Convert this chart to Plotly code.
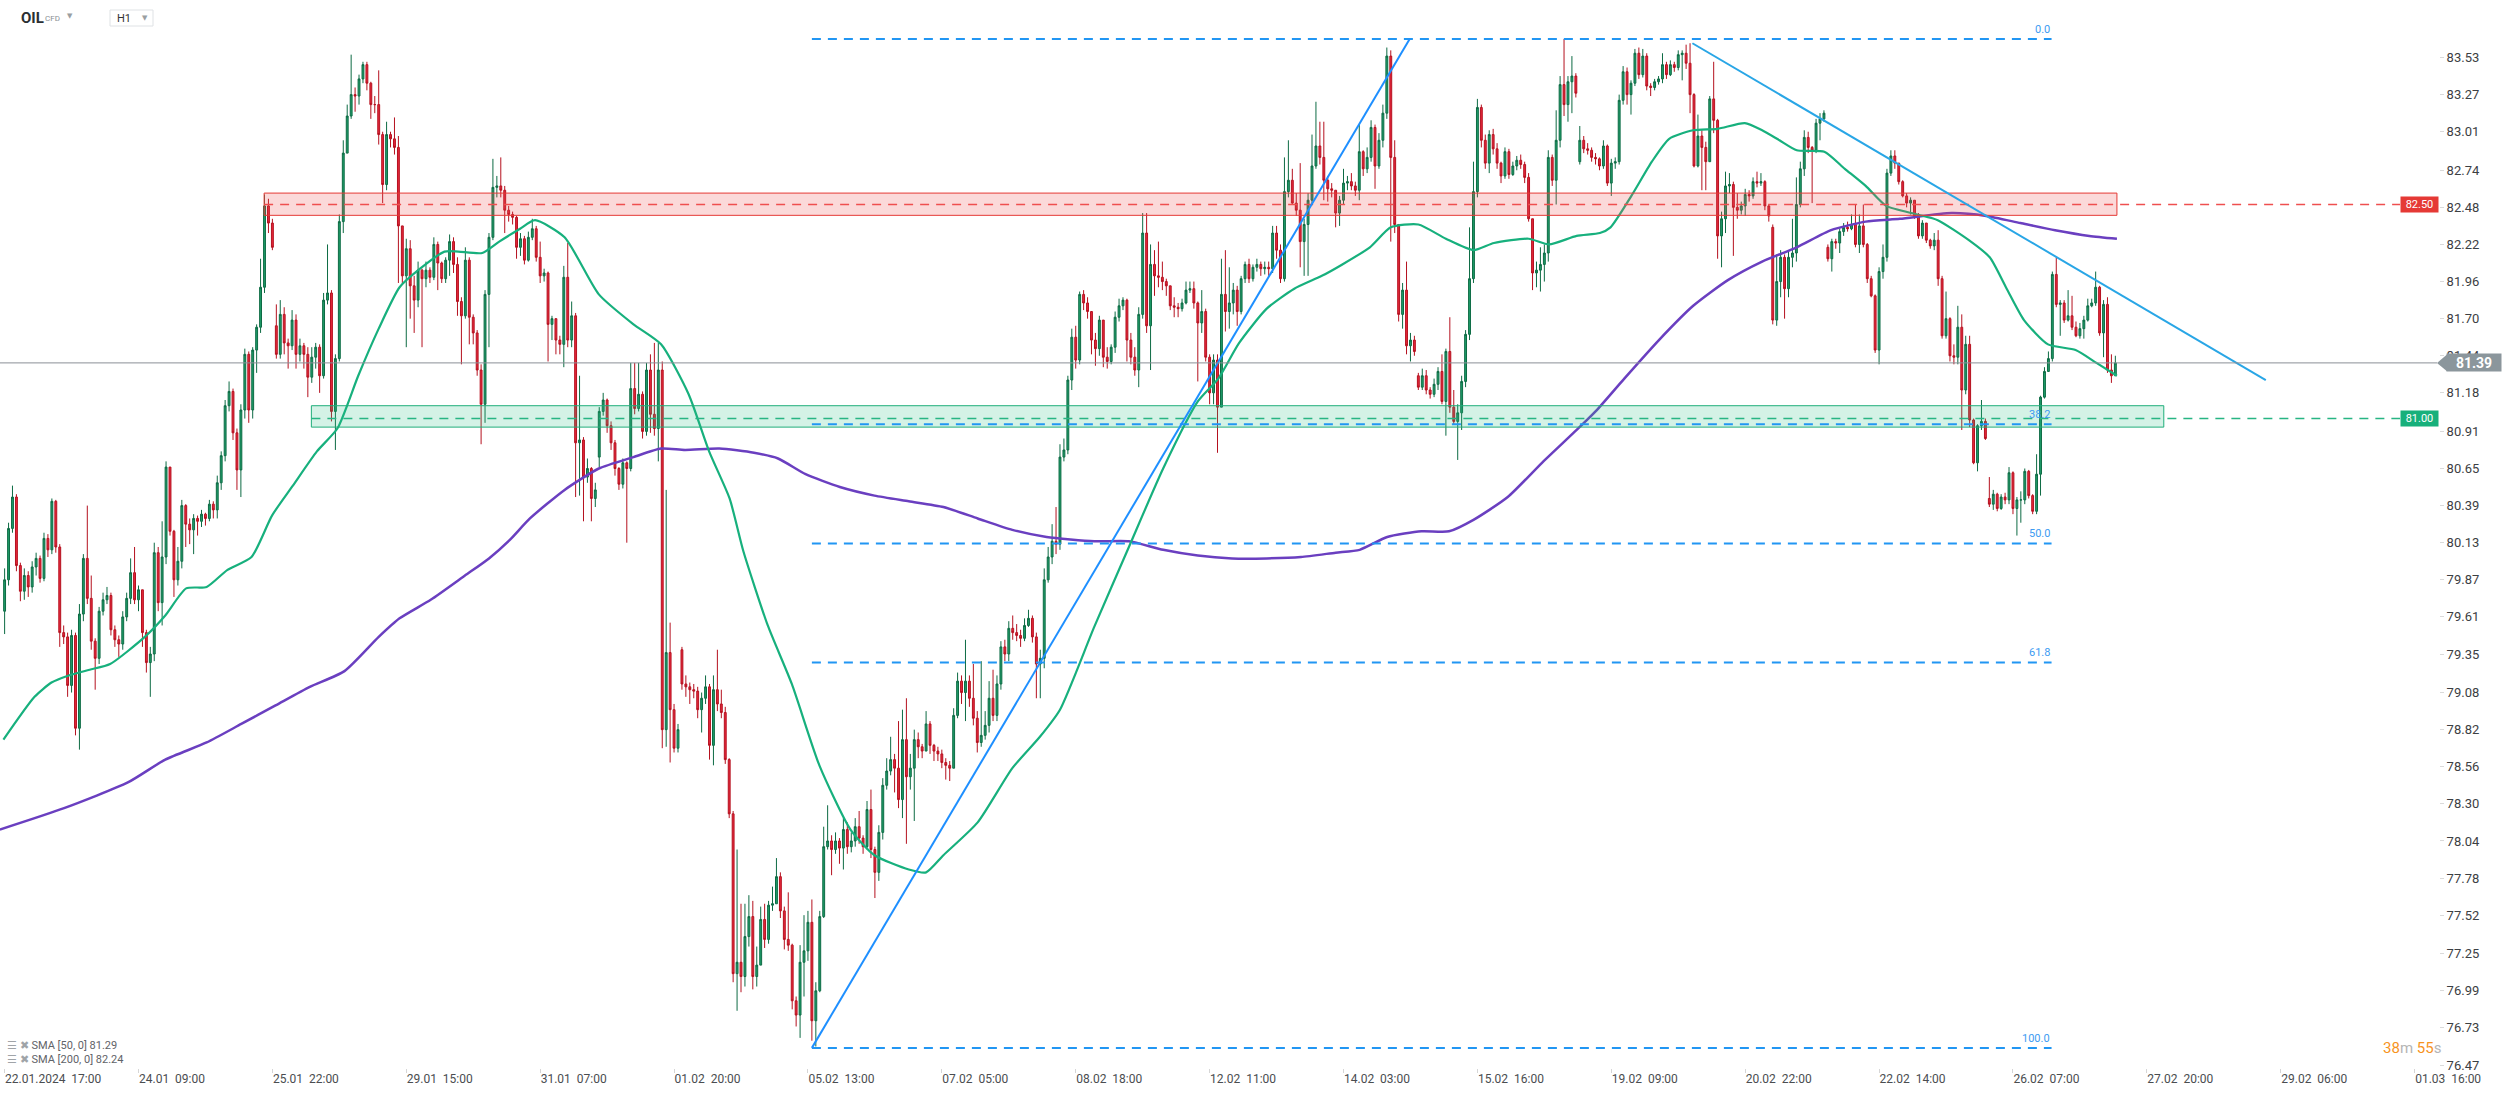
import plotly.graph_objects as go

# ---------------- data (H1 candles) ----------------
FIRST_OPEN = 79.65

CLOSE_A = [79.87,80.23,80.45,79.97,79.79,79.90,79.82,79.96,80.02,79.88,
80.16,80.08,80.42,80.10,79.50,79.47,79.13,79.48,78.83,79.63,
80.02,79.74,79.44,79.32,79.65,79.73,79.76,79.52,79.45,79.42,
79.61,79.74,79.92,79.73,79.80,79.50,79.29,79.35,80.06,79.71,
80.03,80.66,80.21,79.87,80.00,80.39,80.26,80.22,80.30,80.28,
80.33,80.30,80.40,80.36,80.55,80.74,81.09,81.19,80.90,80.64,
81.06,81.45,81.06,81.48,81.64,81.92,82.49,82.37,82.20,81.45,
81.73,81.53,81.51,81.69,81.45,81.51,81.45,81.29,81.43,81.50,
81.30,81.83,81.88,81.05,81.42,82.38,82.86,83.12,83.27,83.26,
83.38,83.48,83.35,83.20,83.20,82.99,82.64,82.99,82.96,82.90,
82.35,82.00,82.19,81.93,81.83,82.04,81.98,82.04,81.99,82.22,
82.09,81.98,82.11,82.24,82.08,81.82,81.72,82.11,81.71,81.60,
81.34,81.10,81.87,82.27,82.62,82.63,82.60,82.46,82.43,82.41,
82.20,82.26,82.11,82.27,82.33,82.13]
HIGH_A = [79.95,80.27,80.53,80.47,79.99,79.95,79.93,80.00,80.06,80.04,
80.20,80.19,80.44,80.43,80.12,79.55,79.50,79.52,79.50,79.70,
80.05,80.39,79.90,79.46,79.68,79.78,79.82,79.78,79.55,79.48,
79.65,79.78,80.02,80.10,79.83,79.80,79.52,79.40,80.13,80.10,
80.28,80.70,80.66,80.22,80.10,80.43,80.40,80.30,80.33,80.32,
80.36,80.34,80.43,80.42,80.60,80.77,81.13,81.26,81.21,80.93,
81.10,81.49,81.47,81.50,81.66,82.12,82.57,82.54,82.40,81.80,
81.83,81.78,81.56,81.76,81.73,81.56,81.53,81.50,81.50,81.53,
81.52,81.88,82.22,81.90,81.45,82.43,82.95,83.20,83.55,83.32,
83.41,83.50,83.50,83.36,83.26,83.44,83.01,83.08,83.01,83.11,
82.98,82.35,82.26,82.25,82.00,82.10,82.05,82.10,82.06,82.27,
82.24,82.10,82.13,82.29,82.27,82.13,81.85,82.20,82.13,81.73,
81.62,81.38,81.90,82.30,82.82,82.70,82.83,82.63,82.49,82.45,
82.42,82.30,82.28,82.31,82.40,82.35]
LOW_A = [79.49,79.83,80.20,79.93,79.72,79.73,79.75,79.78,79.90,79.85,
79.86,80.03,80.05,80.06,79.40,79.42,79.05,79.08,78.78,78.68,
79.58,79.70,79.38,79.10,79.28,79.62,79.70,79.48,79.40,79.33,
79.38,79.58,79.70,79.70,79.65,79.40,79.22,79.05,79.30,79.65,
79.55,79.98,80.18,79.75,79.83,79.95,80.10,80.12,80.05,80.18,
80.24,80.25,80.28,80.30,80.30,80.50,80.70,81.05,80.85,80.50,
80.45,81.00,80.97,81.00,81.32,81.60,81.88,82.30,82.18,81.42,
81.42,81.45,81.35,81.48,81.35,81.40,81.35,81.15,81.25,81.35,
81.18,81.28,81.80,80.98,80.78,81.40,82.30,82.90,83.10,83.15,
83.20,83.35,83.30,83.10,83.14,82.92,82.51,82.60,82.90,82.85,
81.95,81.95,81.50,81.70,81.60,81.78,81.50,81.92,81.95,81.97,
81.90,81.95,81.95,82.00,82.02,81.72,81.38,81.70,81.52,81.52,
81.30,80.82,80.97,81.50,82.25,82.55,82.55,82.30,82.38,82.36,
82.12,82.14,82.08,82.10,82.25,82.10]
GAP_A = {69: 81.65}

CLOSE_B = [82.00,82.02,81.66,81.70,81.55,81.52,81.99,81.55,81.72,80.83,
80.85,80.59,80.65,80.44,80.50,81.05,81.13,80.95,80.83,80.65,
80.54,80.69,80.65,81.21,81.07,81.17,80.91,81.34,81.03,80.93,
81.34,78.82,79.36,78.96,78.69,78.82,79.14,79.12,79.10,79.09,
78.96,79.04,79.12,78.71,79.10,79.00,78.94,78.61,78.23,77.11,
77.19,77.09,77.37,77.51,77.09,77.17,77.49,77.35,77.59,77.60,
77.79,77.55,77.35,77.31,76.92,76.82,77.19,77.27,77.47,76.78,
76.99,77.51,78.00,78.04,77.98,78.04,77.99,78.12,78.00,78.04,
78.14,78.06,78.00,78.26,77.98,77.82,78.10,78.43,78.53,78.61,
78.55,78.33,78.75,78.49,78.55,78.75,78.70,78.67,78.86,78.71,
78.67,78.65,78.59,78.57,78.55,78.92,79.16,79.08,79.16,79.04,
78.90,78.73,78.78,78.85,79.04,78.92,79.14,79.40,79.35,79.53,
79.50,79.48,79.46,79.55,79.60,79.47,79.28,79.32,79.87,80.03,
80.14,80.12,80.73,80.78,81.27]
HIGH_B = [82.24,82.05,82.03,81.72,81.68,81.58,82.07,82.23,81.82,81.74,
81.30,80.87,80.72,80.66,80.55,81.08,81.18,81.14,80.98,80.85,
80.66,80.72,80.70,81.39,81.39,81.39,81.19,81.39,81.45,81.53,
81.53,81.40,80.50,79.57,79.00,78.86,79.40,79.20,79.15,79.14,
79.12,79.08,79.20,79.14,79.20,79.38,79.10,78.98,78.62,78.25,
77.98,77.60,77.60,77.66,77.62,77.30,77.58,77.60,77.62,77.72,
77.92,77.82,77.58,77.68,77.32,76.95,77.31,77.52,77.55,77.63,
77.05,77.55,78.14,78.29,78.08,78.10,78.06,78.20,78.17,78.10,
78.20,78.25,78.08,78.32,78.40,78.00,78.15,78.48,78.62,78.77,
78.65,78.88,78.96,79.04,78.65,78.82,78.80,78.72,78.95,78.88,
78.72,78.70,78.68,78.62,78.60,78.97,79.22,79.20,79.45,79.20,
79.28,78.95,79.30,78.95,79.16,79.24,79.20,79.44,79.45,79.58,
79.62,79.56,79.52,79.60,79.66,79.62,79.50,79.38,79.95,80.10,
80.26,80.38,80.82,80.86,81.30]
LOW_B = [81.95,81.96,81.40,81.55,81.45,81.45,81.36,81.50,81.50,80.45,
80.46,80.28,80.55,80.28,80.38,80.66,81.02,80.90,80.78,80.60,
80.50,80.51,80.13,80.63,81.03,81.05,80.86,80.88,80.90,80.88,
80.70,78.69,78.70,78.59,78.66,78.66,79.10,79.05,79.00,79.04,
78.90,78.80,79.00,78.61,78.57,78.95,78.90,78.58,78.20,77.05,
76.85,76.98,77.02,77.30,77.00,77.02,77.31,77.29,77.32,77.55,
77.65,77.50,77.28,77.27,76.86,76.74,76.66,76.95,77.20,76.64,
76.60,76.98,77.50,77.98,77.80,77.95,77.88,77.84,77.95,77.96,
78.00,78.02,77.95,77.98,77.92,77.64,77.76,78.05,78.40,78.50,
78.38,78.27,78.20,78.02,78.40,78.18,78.62,78.62,78.82,78.65,
78.60,78.60,78.55,78.47,78.46,78.55,78.90,79.00,78.88,78.98,
78.85,78.66,78.70,78.75,78.80,78.88,78.88,79.10,79.30,79.30,
79.45,79.44,79.40,79.44,79.54,79.43,79.04,79.04,79.25,79.85,
79.98,80.05,80.08,80.70,80.75]
GAP_B = {15: 80.73, 36: 79.38}

CLOSE_C = [81.57,81.41,81.87,81.81,81.75,81.55,81.49,81.69,81.43,81.40,
81.50,81.71,81.79,81.83,81.55,81.43,81.34,81.73,82.30,81.65,
82.08,82.00,81.99,81.96,81.93,81.79,81.78,81.77,81.81,81.90,
81.91,81.81,81.67,81.75,81.43,81.18,81.41,81.08,81.87,81.75,
81.81,81.90,81.75,81.98,82.08,81.98,82.06,82.08,82.05,82.06,
82.05,82.30,82.18,81.98,82.59,82.67,82.51,82.46,82.24,82.36,
82.53,82.77,82.91,82.83,82.67,82.61,82.60,82.44,82.53,82.65,
82.66,82.63,82.60,82.87,82.75,82.83,83.04,82.77,82.95,83.14,
83.54,82.83,82.36,81.73,81.90,81.51,81.55,81.47,81.22,81.30,
81.20,81.17,81.24,81.33,81.12,81.47,81.08,80.98,81.04,81.26,
81.59,81.98,82.59,83.18,82.95,82.79,82.99,82.89,82.79,82.70,
82.87,82.71,82.77,82.81,82.78,82.69,82.40,82.02,82.04,82.08,
82.16,82.83,82.67,82.95,83.34,83.20,83.36,83.40,83.28,82.95,
82.89,82.88,82.83,82.82]
HIGH_C = [81.63,81.65,81.89,81.90,81.85,81.72,81.60,81.72,81.69,81.50,
81.52,81.75,81.84,81.85,81.84,81.60,81.50,81.78,82.44,82.44,
82.22,82.18,82.24,82.10,81.98,81.82,81.85,81.81,81.84,81.96,
81.96,81.96,81.82,81.90,81.77,81.45,81.45,81.45,82.12,82.18,
82.06,81.95,81.93,82.00,82.10,82.12,82.08,82.12,82.10,82.10,
82.10,82.35,82.35,82.22,82.83,82.95,82.75,82.58,82.79,82.40,
82.58,82.99,83.22,83.08,83.08,82.70,82.65,82.52,82.56,82.75,
82.70,82.72,82.66,83.06,82.88,82.90,83.09,83.06,83.00,83.20,
83.60,83.58,82.95,82.36,81.95,82.10,81.60,81.58,81.32,81.35,
81.34,81.22,81.28,81.36,81.45,81.49,81.71,81.20,81.10,81.30,
81.62,82.34,82.80,83.24,83.20,82.99,83.02,83.03,82.93,82.80,
82.90,82.89,82.80,82.84,82.85,82.80,82.72,82.40,82.10,82.20,
82.22,82.88,82.85,83.16,83.40,83.66,83.40,83.54,83.42,83.05,
82.98,82.93,82.90,82.86]
LOW_C = [81.20,81.35,81.38,81.76,81.70,81.45,81.37,81.44,81.36,81.35,
81.38,81.46,81.68,81.76,81.40,81.38,81.30,81.22,81.70,81.60,
81.34,81.86,81.92,81.90,81.86,81.76,81.71,81.71,81.75,81.80,
81.88,81.77,81.26,81.60,81.40,81.10,81.10,80.76,81.08,81.61,
81.63,81.73,81.65,81.73,81.95,81.95,81.96,82.03,82.00,82.01,
82.00,82.02,82.12,81.95,81.96,82.55,82.50,82.42,82.06,82.00,
82.00,82.50,82.75,82.78,82.53,82.52,82.55,82.34,82.35,82.50,
82.60,82.60,82.56,82.53,82.70,82.72,82.80,82.61,82.75,82.90,
83.10,82.24,82.30,81.68,81.63,81.45,81.40,81.44,81.20,81.20,
81.17,81.14,81.15,81.20,81.10,80.88,81.04,80.96,80.71,80.92,
81.22,81.55,81.95,82.55,82.90,82.75,82.72,82.85,82.75,82.65,
82.68,82.68,82.70,82.74,82.75,82.65,82.38,81.90,81.92,81.89,
81.96,82.10,82.63,82.50,82.90,83.12,83.08,83.14,83.25,82.78,
82.86,82.85,82.80,82.78]
GAP_C = {88: 81.30, 129: 82.80}

CLOSE_D = [82.77,82.91,82.65,82.79,82.80,83.23,83.43,83.27,83.35,83.56,
83.41,83.54,83.33,83.32,83.36,83.38,83.48,83.41,83.48,83.46,
83.55,83.56,83.49,83.27,82.77,82.98,82.90,82.80,83.24,83.09,
82.28,82.40,82.63,82.64,82.48,82.46,82.49,82.57,82.56,82.66,
82.65,82.66,82.49,82.42,81.69,81.96,82.13,81.91,82.13,82.16,
82.50,82.75,82.97,82.90,82.88,83.07,83.10,83.14,82.12,82.24,
82.23,82.31,82.34,82.33,82.36,82.22,82.35,82.22,81.98,81.86,
81.48,82.03,82.13,82.72,82.84,82.79,82.66,82.56,82.51,82.53,
82.42,82.28,82.37,82.25,82.21,82.25,81.98,81.58,81.70,81.44,
81.43,81.64,81.20,81.52,80.99,80.69,80.95,80.98,80.86,80.40,
80.47,80.37,80.45,80.43,80.62,80.37,80.43,80.43,80.63,80.46,
80.35,80.61,81.15,81.33,81.42,82.01,81.80,81.81,81.69,81.72,
81.64,81.58,81.63,81.69,81.79,81.81,81.92,81.60,81.80,81.34,
81.30,81.39]
HIGH_D = [82.83,82.95,82.92,82.82,82.83,83.27,83.47,83.46,83.37,83.59,
83.60,83.59,83.56,83.35,83.38,83.40,83.56,83.50,83.51,83.50,
83.58,83.58,83.62,83.63,83.28,83.13,83.02,82.94,83.26,83.50,
83.10,82.45,82.73,82.72,82.66,82.58,82.52,82.61,82.60,82.69,
82.73,82.72,82.67,82.50,82.36,82.15,82.18,82.15,82.18,82.40,
82.69,82.80,83.02,83.01,82.91,83.10,83.14,83.16,82.22,82.26,
82.26,82.33,82.37,82.38,82.43,82.50,82.43,82.50,82.23,82.00,
81.87,82.06,82.22,82.75,82.88,82.88,82.70,82.67,82.58,82.55,
82.51,82.44,82.39,82.37,82.26,82.30,82.32,82.00,81.89,81.71,
81.52,81.79,81.73,81.58,81.58,81.00,80.96,81.13,81.00,80.59,
80.50,80.48,80.47,80.48,80.66,80.63,80.45,80.49,80.65,80.64,
80.47,80.75,81.16,81.36,81.47,82.03,82.13,81.83,81.83,81.90,
81.86,81.68,81.67,81.72,81.84,81.84,82.03,81.93,81.83,81.85,
81.45,81.44]
LOW_D = [82.74,82.75,82.63,82.56,82.75,82.78,83.20,83.20,83.13,83.33,
83.38,83.39,83.30,83.26,83.30,83.34,83.35,83.38,83.40,83.43,
83.44,83.37,83.45,83.14,82.76,82.76,82.60,82.60,82.80,83.00,
82.12,82.06,82.30,82.58,82.14,82.40,82.43,82.42,82.52,82.54,
82.62,82.63,82.46,82.38,81.66,81.65,81.85,81.70,81.85,82.06,
82.10,82.48,82.70,82.86,82.51,82.86,82.95,83.08,82.10,82.03,
82.19,82.16,82.28,82.31,82.32,82.20,82.16,82.20,81.95,81.85,
81.46,81.38,81.98,82.10,82.70,82.75,82.64,82.55,82.48,82.43,
82.40,82.26,82.26,82.23,82.19,82.18,81.93,81.56,81.56,81.40,
81.38,81.38,80.92,81.17,80.94,80.68,80.63,80.92,80.85,80.38,
80.36,80.35,80.36,80.40,80.40,80.33,80.18,80.27,80.40,80.44,
80.33,80.33,80.46,81.14,81.33,81.40,81.78,81.58,81.67,81.68,
81.62,81.57,81.56,81.56,81.68,81.78,81.79,81.58,81.43,81.32,
81.25,81.30]
GAP_D = {44: 82.34, 58: 82.20, 99: 80.44}

# SMA indicator curves (bar index, value)
SMA50_X = [-0.3,7.6,11.9,16.3,21.6,26.8,35.6,40.8,46.1,51.3,56.6,62.7,67.9,73.2,79.3,84.5,
           89.8,95.0,100.3,105.5,111.7,115.2,121.3,125.6,130.9,134.7,142.2,150.9,159.7,166.7,
           173.7,178.9,184.1,187.6,193.8,199.9,206.9,214.8,220.9,229.6,234.0,238.4,247.1,
           255.9,262.9,268.0,276.7,285.5,294.2,303.0,308.2,313.5,320.5,327.5,334.5,339.7,
           346.7,352.0,359.0,366.0,373.0,378.2,387.0,392.2,399.2,405.1,407.8,413.1,418.3,
           422.7,428.8,435.0,441.9,446.3,450.7,455.1,462.1,467.3,472.6,477.8,485.7,490.9,
           498.8,504.1,508.4,512.8,518.9,525.9,531.2,536.4]
SMA50_Y = [78.75,79.05,79.15,79.20,79.24,79.28,79.47,79.62,79.81,79.82,79.94,80.03,80.32,80.53,80.77,80.93,
           81.30,81.63,81.92,82.05,82.17,82.17,82.16,82.24,82.33,82.39,82.27,81.87,81.66,81.52,
           81.17,80.77,80.44,80.07,79.55,79.14,78.57,78.12,77.94,77.84,77.82,77.94,78.17,
           78.55,78.77,78.96,79.54,80.10,80.65,81.12,81.28,81.53,81.77,81.91,82.00,82.08,
           82.20,82.34,82.36,82.26,82.18,82.23,82.26,82.22,82.28,82.30,82.34,82.56,82.80,
           82.96,83.02,83.03,83.07,83.02,82.95,82.88,82.87,82.75,82.63,82.49,82.43,82.39,
           82.25,82.13,81.91,81.69,81.52,81.48,81.39,81.30]
SMA200_X = [-1.2,15.1,31.3,40.8,51.3,60.1,68.8,77.5,86.3,95.0,100.3,108.2,116.9,123.0,128.3,
            133.4,142.2,150.9,159.7,166.7,172.8,181.5,190.3,196.4,203.4,212.1,220.9,229.6,
            238.4,247.1,255.9,264.6,276.7,285.5,294.2,303.0,311.7,320.5,329.2,338.0,344.1,
            351.1,359.8,366.8,373.0,381.7,390.4,399.2,404.0,411.3,420.1,428.8,437.6,446.3,
            455.1,463.8,472.6,481.3,494.4,503.2,511.9,520.7,529.4,536.4]
SMA200_Y = [78.12,78.27,78.45,78.61,78.73,78.86,78.99,79.12,79.23,79.47,79.60,79.73,79.90,80.02,80.15,
            80.30,80.50,80.65,80.73,80.79,80.78,80.79,80.76,80.72,80.61,80.52,80.46,80.42,
            80.38,80.30,80.22,80.17,80.14,80.14,80.08,80.04,80.02,80.02,80.03,80.06,80.08,
            80.17,80.21,80.21,80.29,80.45,80.69,80.92,81.05,81.28,81.55,81.79,81.97,82.10,
            82.20,82.32,82.38,82.40,82.44,82.42,82.37,82.32,82.28,82.26]

# drawings
FIB_START = (205.0, 76.59)
FIB_END_X = 519.8
FIB_HIGH = 83.66
FIB_LEVELS = [0.0, 38.2, 50.0, 61.8, 100.0]
FIB_TEXT = ["0.0", "38.2", "50.0", "61.8", "100.0"]
TREND_UP = [(205.0, 76.59), (356.8, 83.66)]
TREND_DOWN = [(428.6, 83.63), (574.2, 81.27)]
RES_ZONE = dict(x0=65.9, x1=536.4, y0=82.424, y1=82.58)
SUP_ZONE = dict(x0=77.9, x1=548.3, y0=80.94, y1=81.09)
RES_LEVEL, SUP_LEVEL, LAST_PRICE = 82.50, 81.00, 81.39
LEVEL_END_X = 608.3

BARS_PER_LABEL = 34
X_TICK_LABELS = ["22.01.2024  17:00", "24.01  09:00", "25.01  22:00", "29.01  15:00",
                 "31.01  07:00", "01.02  20:00", "05.02  13:00", "07.02  05:00",
                 "08.02  18:00", "12.02  11:00", "14.02  03:00", "15.02  16:00",
                 "19.02  09:00", "20.02  22:00", "22.02  14:00", "26.02  07:00",
                 "27.02  20:00", "29.02  06:00", "01.03  16:00"]
Y_TICKS = [83.53, 83.27, 83.01, 82.74, 82.48, 82.22, 81.96, 81.70, 81.44, 81.18, 80.91,
           80.65, 80.39, 80.13, 79.87, 79.61, 79.35, 79.08, 78.82, 78.56, 78.30, 78.04,
           77.78, 77.52, 77.25, 76.99, 76.73, 76.47]
SMA50_LAST, SMA200_LAST = "81.29", "82.24"

# ---------------- build OHLC ----------------
segments = [(CLOSE_A, HIGH_A, LOW_A, GAP_A), (CLOSE_B, HIGH_B, LOW_B, GAP_B),
            (CLOSE_C, HIGH_C, LOW_C, GAP_C), (CLOSE_D, HIGH_D, LOW_D, GAP_D)]
closes, highs, lows, gaps = [], [], [], {}
for c, h, l, g in segments:
    off = len(closes)
    for k, v in g.items():
        gaps[off + k] = v
    closes += c
    highs += h
    lows += l
opens = []
prev = FIRST_OPEN
for i, c in enumerate(closes):
    opens.append(gaps.get(i, prev))
    prev = c
highs = [max(h, o, c) for h, o, c in zip(highs, opens, closes)]
lows = [min(l, o, c) for l, o, c in zip(lows, opens, closes)]
xs = list(range(len(closes)))

W, H = 2506, 1093
MB = 25
PH = H - MB
FONT = "Roboto, 'Open Sans', sans-serif"

fig = go.Figure()
fig.add_trace(go.Candlestick(
    x=xs, open=opens, high=highs, low=lows, close=closes,
    increasing=dict(line=dict(color="#0d6b44", width=1), fillcolor="#1f9d6a"),
    decreasing=dict(line=dict(color="#b5111f", width=1), fillcolor="#e6283c"),
    whiskerwidth=0, hoverinfo="skip", showlegend=False))
fig.add_trace(go.Scatter(x=SMA200_X, y=SMA200_Y, mode="lines",
                         line=dict(color="#6a3fc0", width=2.5, shape="spline", smoothing=0.6),
                         hoverinfo="skip", showlegend=False))
fig.add_trace(go.Scatter(x=SMA50_X, y=SMA50_Y, mode="lines",
                         line=dict(color="#17b07d", width=2.2, shape="spline", smoothing=0.6),
                         hoverinfo="skip", showlegend=False))

shapes = []
shapes.append(dict(type="rect", xref="x", yref="y", **RES_ZONE,
                   fillcolor="rgba(239,83,80,0.22)", line=dict(color="#e53935", width=1)))
shapes.append(dict(type="rect", xref="x", yref="y", **SUP_ZONE,
                   fillcolor="rgba(38,190,130,0.20)", line=dict(color="#1fae7a", width=1)))
shapes.append(dict(type="line", xref="x", yref="y", x0=RES_ZONE["x0"], x1=LEVEL_END_X,
                   y0=RES_LEVEL, y1=RES_LEVEL, line=dict(color="#ef4f4f", width=1.6, dash="9px,7px")))
shapes.append(dict(type="line", xref="x", yref="y", x0=SUP_ZONE["x0"], x1=LEVEL_END_X,
                   y0=SUP_LEVEL, y1=SUP_LEVEL, line=dict(color="#27b583", width=1.6, dash="9px,7px")))
fib_range = FIB_HIGH - FIB_START[1]
for lv in FIB_LEVELS:
    yv = FIB_HIGH - lv / 100.0 * fib_range
    shapes.append(dict(type="line", xref="x", yref="y", x0=FIB_START[0], x1=FIB_END_X,
                       y0=yv, y1=yv, line=dict(color="#2196f3", width=2, dash="9px,7px")))
shapes.append(dict(type="line", xref="x", yref="y", x0=TREND_UP[0][0], y0=TREND_UP[0][1],
                   x1=TREND_UP[1][0], y1=TREND_UP[1][1], line=dict(color="#1e8fff", width=2)))
shapes.append(dict(type="line", xref="x", yref="y", x0=TREND_DOWN[0][0], y0=TREND_DOWN[0][1],
                   x1=TREND_DOWN[1][0], y1=TREND_DOWN[1][1], line=dict(color="#29a6e6", width=2)))
TAG_L, TAG_B = 2437 / W, 2447 / W
shapes.append(dict(type="line", xref="paper", yref="y", x0=0, x1=TAG_L, y0=LAST_PRICE,
                   y1=LAST_PRICE, line=dict(color="#8a9096", width=1)))
shapes.append(dict(type="path", xref="paper", yref="y",
                   path=f"M {TAG_B},{LAST_PRICE + 0.058} L {TAG_L},{LAST_PRICE} L {TAG_B},{LAST_PRICE - 0.058} Z",
                   fillcolor="#8b969c", line=dict(width=0)))
shapes.append(dict(type="rect", xref="paper", yref="paper", x0=110 / W, x1=153 / W,
                   y0=1 - 26 / PH, y1=1 - 10 / PH, fillcolor="white", line=dict(color="#dfe2e5", width=1)))

ann = []
def py(px):
    return 1 - px / PH

for lv, txt in zip(FIB_LEVELS, FIB_TEXT):
    yv = FIB_HIGH - lv / 100.0 * fib_range
    ann.append(dict(x=FIB_END_X, y=yv, xref="x", yref="y", text=txt, showarrow=False,
                    xanchor="right", yanchor="bottom", yshift=1,
                    font=dict(family=FONT, size=11, color="#3d9bf2")))
ann.append(dict(x=2419.5 / W, y=RES_LEVEL, xref="paper", yref="y", text="82.50", showarrow=False,
                xanchor="center", yanchor="middle",
                bgcolor="#e53935", width=35, height=13, font=dict(family=FONT, size=11, color="white")))
ann.append(dict(x=2419.5 / W, y=SUP_LEVEL, xref="paper", yref="y", text="81.00", showarrow=False,
                xanchor="center", yanchor="middle",
                bgcolor="#17b07b", width=35, height=13, font=dict(family=FONT, size=11, color="white")))
ann.append(dict(x=2473.5 / W, y=LAST_PRICE, xref="paper", yref="y", text="<b>81.39</b>", showarrow=False,
                xanchor="center", yanchor="middle",
                bgcolor="#8b969c", width=52, height=15, font=dict(family=FONT, size=14, color="white")))
# header
ann.append(dict(x=19 / W, y=py(18), xref="paper", yref="paper", text="<b>OIL</b>", showarrow=False,
                xanchor="left", yanchor="middle", font=dict(family=FONT, size=15, color="#2b2f33")))
ann.append(dict(x=43 / W, y=py(19), xref="paper", yref="paper", text="CFD", showarrow=False,
                xanchor="left", yanchor="middle", font=dict(family=FONT, size=8, color="#8a8f94")))
ann.append(dict(x=65 / W, y=py(16), xref="paper", yref="paper", text="▼", showarrow=False,
                xanchor="left", yanchor="middle", font=dict(family="DejaVu Sans", size=7, color="#9a9ea2")))
ann.append(dict(x=115 / W, y=py(19), xref="paper", yref="paper", text="H1", showarrow=False,
                xanchor="left", yanchor="middle", font=dict(family=FONT, size=11, color="#333")))
ann.append(dict(x=140 / W, y=py(18), xref="paper", yref="paper", text="▼", showarrow=False,
                xanchor="left", yanchor="middle", font=dict(family="DejaVu Sans", size=7, color="#9a9ea2")))
for ypx, txt in [(1045, f"SMA [50, 0] {SMA50_LAST}"), (1059, f"SMA [200, 0] {SMA200_LAST}")]:
    ann.append(dict(x=5 / W, y=py(ypx), xref="paper", yref="paper",
                    text=f"<span style='color:#a0a4a8'>☰ ✖</span> {txt}", showarrow=False,
                    xanchor="left", yanchor="middle", font=dict(family=FONT, size=11, color="#5f6368")))
ann.append(dict(x=2381 / W, y=py(1048), xref="paper", yref="paper", showarrow=False,
                xanchor="left", yanchor="middle",
                text="<span style='color:#f7931e'>38</span><span style='color:#b5b5b5'>m</span> "
                     "<span style='color:#f7931e'>55</span><span style='color:#b5b5b5'>s</span>",
                font=dict(family=FONT, size=15)))

fig.update_layout(
    width=W, height=H, margin=dict(l=0, r=0, t=0, b=MB),
    paper_bgcolor="white", plot_bgcolor="white", showlegend=False,
    shapes=shapes, annotations=ann, boxgap=0.32,
    xaxis=dict(range=[-1.17, 635.2], rangeslider=dict(visible=False), showgrid=False,
               zeroline=False, showline=False,
               tickvals=[BARS_PER_LABEL * k for k in range(len(X_TICK_LABELS))],
               ticktext=[t.replace("  ", "\u00a0\u00a0") for t in X_TICK_LABELS],
               ticks="outside", ticklen=4, tickcolor="#d6d6d6",
               ticklabelposition="outside right",
               tickfont=dict(family=FONT, size=12, color="#4a4d50")),
    yaxis=dict(range=[76.449, 83.933], side="right", anchor="free", position=2439 / W,
               showgrid=False, zeroline=False, showline=False,
               tickvals=Y_TICKS, ticktext=[f"{v:.2f}" for v in Y_TICKS],
               ticks="outside", ticklen=4, tickcolor="#dadada",
               tickfont=dict(family=FONT, size=13, color="#3c4043")),
)

fig.write_html("out.html", config={"displayModeBar": False},
               post_script="document.body.style.margin='0';document.body.style.overflow='hidden';")
